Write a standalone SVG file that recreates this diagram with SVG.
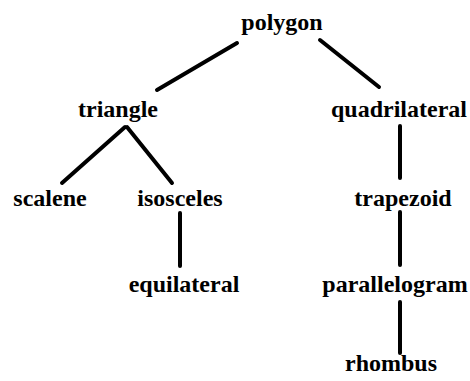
<svg xmlns="http://www.w3.org/2000/svg" width="470" height="381" viewBox="0 0 470 381">
<style>
.lbl{font-family:"Liberation Serif","Times New Roman",serif;font-weight:bold;font-size:24px;fill:#000;text-anchor:middle}
.edge{stroke:#000;stroke-width:4;stroke-linecap:round;fill:none}
</style>
<rect width="470" height="381" fill="#fff"/>
<g id="connectors">
<line class="edge" x1="237" y1="43" x2="157" y2="90"/>
<line class="edge" x1="320" y1="40" x2="379" y2="87"/>
<line class="edge" x1="125" y1="127" x2="62" y2="183"/>
<line class="edge" x1="127" y1="127" x2="172" y2="183"/>
<line class="edge" x1="400" y1="126" x2="400" y2="178"/>
<line class="edge" x1="180" y1="213" x2="180" y2="266"/>
<line class="edge" x1="400" y1="212" x2="400" y2="265"/>
<line class="edge" x1="400" y1="302" x2="400" y2="353"/>
</g>
<g id="polygon"><text class="lbl" x="282" y="30">polygon</text></g>
<g id="triangle"><text class="lbl" x="118" y="117">triangle</text></g>
<g id="quadrilateral"><text class="lbl" x="399" y="117">quadrilateral</text></g>
<g id="scalene"><text class="lbl" x="50" y="206">scalene</text></g>
<g id="isosceles"><text class="lbl" x="180" y="206">isosceles</text></g>
<g id="trapezoid"><text class="lbl" x="403" y="206">trapezoid</text></g>
<g id="equilateral"><text class="lbl" x="184" y="292">equilateral</text></g>
<g id="parallelogram"><text class="lbl" x="395" y="292">parallelogram</text></g>
<g id="rhombus"><text class="lbl" x="391" y="371">rhombus</text></g>
</svg>
